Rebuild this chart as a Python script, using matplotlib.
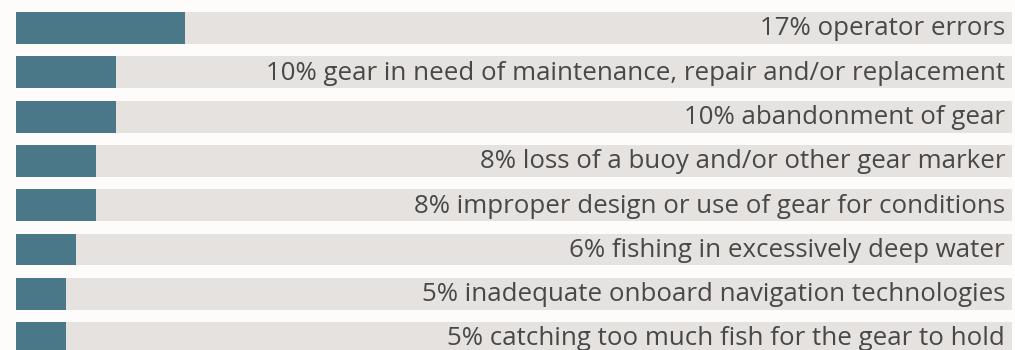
import matplotlib
matplotlib.use("Agg")
import matplotlib.pyplot as plt

categories = [
    "operator errors",
    "gear in need of maintenance, repair and/or replacement",
    "abandonment of gear",
    "loss of a buoy and/or other gear marker",
    "improper design or use of gear for conditions",
    "fishing in excessively deep water",
    "inadequate onboard navigation technologies",
    "catching too much fish for the gear to hold",
]
values = [17, 10, 10, 8, 8, 6, 5, 5]
total = 100

bar_color = "#4a7889"
bg_color = "#e5e2e0"
text_color = "#484848"

fig = plt.figure(figsize=(10.15, 3.5), dpi=100)
fig.patch.set_facecolor("#fefcfb")
ax = fig.add_axes([0, 0, 1, 1])
ax.set_facecolor("none")

y = list(range(len(categories)))
h = 0.72
ax.barh(y, [total] * len(values), height=h, color=bg_color, zorder=1)
ax.barh(y, values, height=h, color=bar_color, zorder=2)

for i, (v, c) in enumerate(zip(values, categories)):
    ax.text(99.3, i + 0.02, f"{v}% {c}", ha="right", va="center",
            fontsize=18.65, color=text_color, family="Open Sans", zorder=3)

pitch = 44.3
c0 = 28
ax.set_ylim((350 - c0) / pitch, -c0 / pitch)
sx = 9.96
ax.set_xlim(-16 / sx, (1015 - 16) / sx)
ax.axis("off")

fig.savefig("out.png", dpi=100, facecolor=fig.get_facecolor())
